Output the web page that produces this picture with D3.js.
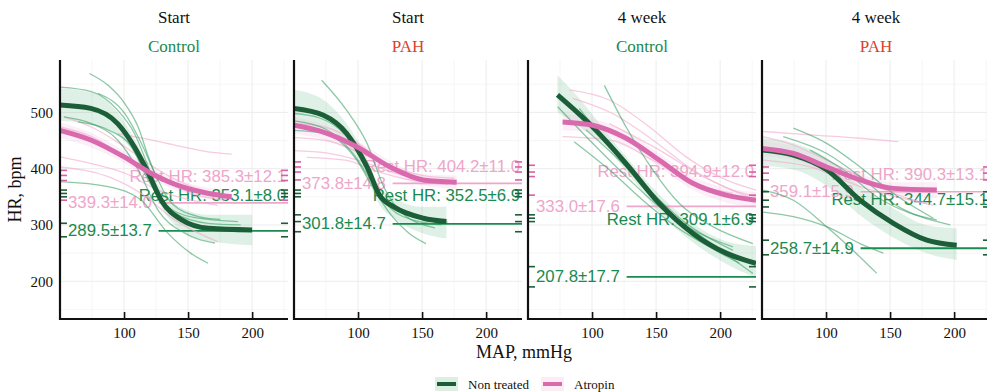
<!DOCTYPE html>
<html>
<head>
<meta charset="utf-8">
<script src="https://cdn.jsdelivr.net/npm/d3@7"></script>
<style>
  body { margin: 0; background: #fff; }
  svg { display: block; }
</style>
</head>
<body>
<div id="chart"></div>
<script>
// Panel headings
var timeLabels = ["Start", "Start", "4 week", "4 week"];
var groupLabels = ["Control", "PAH", "Control", "PAH"];
var mapTicks = [100, 150, 200];
var hrTicks = [200, 300, 400, 500];
var legendLabels = ["Non treated", "Atropin"];

// Summary values (mean and sd) per panel
var restNT = [353.1, 352.5, 309.1, 344.7];
var restNTsd = [8.0, 6.9, 6.9, 15.1];
var restAT = [385.3, 404.2, 394.9, 390.3];
var restATsd = [12.1, 11.0, 12.0, 13.1];
var minNT = [289.5, 301.8, 207.8, 258.7];
var minNTsd = [13.7, 14.7, 17.7, 14.9];
var minAT = [339.3, 373.8, 333.0, 359.1];
var minATsd = [14.0, 14.8, 17.6, 15.9];
var segStartMap = 127;

// Group fits [MAP, HR]
var p1FitNT = [[50,513],[74,507],[95,480],[108,439],[119,392],[129,344],[145,309],[166,294],[200,291]];
var p1FitAT = [[50,468],[74,451],[100,421],[121,392],[145,368],[166,356],[184,350]];
var p2FitNT = [[50,507],[73,495],[91,463],[107,403],[117,352],[128,332],[151,312],[169,306]];
var p2FitAT = [[50,477],[73,465],[99,439],[125,403],[151,380],[177,376]];
var p3FitNT = [[73,531],[100.5,474],[126.6,409],[152.6,338],[178.7,285],[204.7,250],[228,232]];
var p3FitAT = [[77,483],[100.5,477],[126.6,454],[152.6,415],[178.7,374],[204.7,353],[228,344]];
var p4FitNT = [[50,433],[74.5,424],[100.5,398],[126.6,344],[152.6,303],[178.7,273],[202,264]];
var p4FitAT = [[50,436],[74.5,427],[100.5,403],[126.6,380],[152.6,365],[186.5,362]];

// Confidence bands [MAP, upper, lower]
var p1RibNT = [[50,543,485],[75,535,478],[95,500,460],[110,445,420],[120,400,375],[130,360,328],[145,330,290],[165,318,272],[200,318,264]];
var p1RibAT = [[50,482,454],[74,464,438],[100,432,410],[121,402,382],[145,378,358],[166,366,346],[184,362,338]];
var p2RibNT = [[50,540,478],[73,522,472],[91,480,445],[107,418,385],[117,368,335],[128,348,312],[151,332,285],[169,333,276]];
var p2RibAT = [[50,492,462],[73,478,452],[99,450,428],[125,414,392],[151,390,370],[177,388,364]];
var p3RibNT = [[73,566,500],[90,525,475],[110,468,440],[130,412,386],[150,360,328],[170,318,285],[200,275,237],[228,262,206]];
var p3RibAT = [[77,498,468],[100.5,489,465],[126.6,466,442],[152.6,427,403],[178.7,386,362],[204.7,366,340],[228,358,330]];
var p4RibNT = [[50,455,405],[75,445,398],[100,420,370],[126,370,318],[152,330,278],[178,300,250],[202,294,238]];
var p4RibAT = [[50,450,422],[74.5,439,415],[100.5,414,392],[126.6,391,369],[152.6,376,354],[186.5,376,348]];

// Individual animals
var p1IndNT = [
  [[73,569],[87.5,548],[100.5,516],[111,474],[119,421],[126,380]],
  [[50,545],[74.5,537],[95,504],[108,463],[119,403],[126.6,356],[139.6,321],[165.6,303],[191,300]],
  [[50,377],[87.5,368],[113.5,344],[134,286],[152,250],[165.6,232]],
  [[64,483],[87.5,469],[105.7,439],[118.8,380],[134,332],[158,312],[189,306]],
  [[79.7,534],[100.5,498],[113.5,445],[124,392],[137,339],[158,315],[175,310]],
  [[53,492],[74.5,480],[95,451],[111,398],[126.6,326],[147,286],[171,268]]
];
var p1IndAT = [
  [[95,462],[108,457],[139.6,442],[165.6,430],[184,426]],
  [[50,474],[74.5,457],[100.5,421],[126.6,386],[152.6,356],[178.6,344]],
  [[50,421],[74.5,409],[100.5,392],[126.6,362],[152.6,344],[173,335]],
  [[53,492],[74.5,474],[100.5,439],[126.6,398],[152.6,368],[171,356]],
  [[50,403],[87.5,386],[113.5,356],[139.6,309],[173.4,270]]
];
var p2IndNT = [
  [[71.6,557],[91,504],[107,445],[120,368],[135,320],[160,295]],
  [[50,468],[73,463],[99,415],[112,365],[125,320],[140,285],[153,267]],
  [[50,498],[70,490],[90,460],[105,410],[118,350],[135,315],[165,300]],
  [[50,485],[75,470],[95,430],[110,380],[125,335],[150,310],[170,305]]
];
var p2IndAT = [
  [[50,432],[75,428],[100,415],[125,395],[150,380],[175,375]],
  [[50,455],[75,450],[100,430],[125,405],[150,388],[175,383]],
  [[55,480],[80,470],[100,445],[125,400],[150,378],[170,372]],
  [[60,420],[90,415],[115,395],[140,380],[165,375]]
];
var p3IndNT = [
  [[109.6,548],[126.6,474],[147.4,398],[168.2,338],[194.3,297],[225.5,267]],
  [[73.2,510],[100.5,445],[126.6,386],[152.6,332],[178.7,291],[210,261]],
  [[86,448],[113.5,398],[139.6,344],[165.6,297],[191.6,261],[215,232]],
  [[90,507],[116,433],[142,362],[168,309],[197,261],[225.5,214]],
  [[95.3,469],[121.3,415],[147.4,356],[173.4,303],[210,255]]
];
var p3IndAT = [
  [[82.3,540],[113.5,522],[144.8,474],[173.4,421],[204.7,380],[228,362]],
  [[85,525],[116,498],[147.4,451],[178.7,398],[210,362],[228,350]],
  [[77,457],[113.5,451],[147.4,415],[178.7,374],[210,356]],
  [[113.5,480],[152.6,433],[186.5,386],[228,344]]
];
var p4IndNT = [
  [[74.5,472],[100.5,445],[126.6,403],[152.6,356],[183.8,312]],
  [[66.6,457],[100.5,427],[126.6,386],[152.6,338],[197,300]],
  [[51,362],[74.5,344],[100.5,297],[121,255],[139.6,214]],
  [[51,323],[74.5,315],[100.5,297],[126.6,267],[144.8,250]],
  [[87.5,433],[113.5,398],[139.6,350],[165.6,321],[186.5,309]]
];
var p4IndAT = [
  [[51,466],[87.5,460],[126.6,454],[156.5,448]],
  [[51,457],[74.5,442],[100.5,415],[126.6,386],[152.6,356],[178.7,338]],
  [[51,415],[87.5,403],[126.6,368],[165.6,344],[183.8,335]]
];

// Rug values (drawn on both sides)
var p1RugNT = [362, 356, 350, 303, 279];
var p1RugAT = [397, 388, 379, 344];
var p2RugNT = [362, 356, 350, 318, 306, 288];
var p2RugAT = [412, 403, 394, 380];
var p3RugNT = [318, 312, 306, 226, 190];
var p3RugAT = [406, 394, 386, 353];
var p4RugNT = [359, 344, 332, 273, 247];
var p4RugAT = [403, 392, 380];

var panels = [
  {fitNT: p1FitNT, fitAT: p1FitAT, ribNT: p1RibNT, ribAT: p1RibAT, indNT: p1IndNT, indAT: p1IndAT, rugNT: p1RugNT, rugAT: p1RugAT},
  {fitNT: p2FitNT, fitAT: p2FitAT, ribNT: p2RibNT, ribAT: p2RibAT, indNT: p2IndNT, indAT: p2IndAT, rugNT: p2RugNT, rugAT: p2RugAT},
  {fitNT: p3FitNT, fitAT: p3FitAT, ribNT: p3RibNT, ribAT: p3RibAT, indNT: p3IndNT, indAT: p3IndAT, rugNT: p3RugNT, rugAT: p3RugAT},
  {fitNT: p4FitNT, fitAT: p4FitAT, ribNT: p4RibNT, ribAT: p4RibAT, indNT: p4IndNT, indAT: p4IndAT, rugNT: p4RugNT, rugAT: p4RugAT}
];

// Colours
var darkGreen = "#1b5e38", midGreen = "#1a8a50", thinGreen = "#2f9a5c";
var pink = "#d96aad", lightPink = "#eea6ca", thinPink = "#f2a9cd", rugPink = "#d75fa4";
var red = "#d8432e";

var W = 987, H = 392;
var firstLeft = 60, panelW = 228, panelStep = 234;
var plotTop = 60, plotBottom = 319;
var serif = "'Liberation Serif', 'Times New Roman', serif";
var sans = "'Liberation Sans', Arial, sans-serif";
var noteSize = "16.8px";

var svg = d3.select("#chart").append("svg")
  .attr("width", W)
  .attr("height", H);

var x = d3.scaleLinear().domain([50, 228]).range([0, panelW]);
var y = d3.scaleLinear().domain([133, 593]).range([plotBottom, plotTop]);

var line = d3.line()
  .x(function(d) { return x(d[0]); })
  .y(function(d) { return y(d[1]); })
  .curve(d3.curveMonotoneX);

var area = d3.area()
  .x(function(d) { return x(d[0]); })
  .y0(function(d) { return y(d[2]); })
  .y1(function(d) { return y(d[1]); })
  .curve(d3.curveMonotoneX);

panels.forEach(function(p, i) {
  var left = firstLeft + i * panelStep;
  var g = svg.append("g").attr("transform", "translate(" + left + ",0)");

  g.append("clipPath").attr("id", "clip" + i)
    .append("rect").attr("x", 0).attr("y", plotTop).attr("width", panelW).attr("height", plotBottom - plotTop);

  // titles
  g.append("text")
    .attr("x", panelW / 2).attr("y", 23)
    .attr("text-anchor", "middle")
    .style("font-family", serif).style("font-size", "17px")
    .attr("fill", "#111")
    .text(timeLabels[i]);
  g.append("text")
    .attr("x", panelW / 2).attr("y", 52)
    .attr("text-anchor", "middle")
    .style("font-family", serif).style("font-size", "17px")
    .attr("fill", groupLabels[i] == "PAH" ? red : midGreen)
    .text(groupLabels[i]);

  // grid
  var grid = g.append("g");
  grid.selectAll(".vminor").data([75, 125, 175, 225]).enter().append("line")
    .attr("x1", x).attr("x2", x).attr("y1", plotTop).attr("y2", plotBottom)
    .attr("stroke", "#f4f4f4").attr("stroke-width", 0.8);
  grid.selectAll(".hminor").data([150, 250, 350, 450, 550]).enter().append("line")
    .attr("x1", 0).attr("x2", panelW).attr("y1", y).attr("y2", y)
    .attr("stroke", "#f4f4f4").attr("stroke-width", 0.8);
  grid.selectAll(".vmajor").data(mapTicks).enter().append("line")
    .attr("x1", x).attr("x2", x).attr("y1", plotTop).attr("y2", plotBottom)
    .attr("stroke", "#ececec").attr("stroke-width", 1);
  grid.selectAll(".hmajor").data(hrTicks).enter().append("line")
    .attr("x1", 0).attr("x2", panelW).attr("y1", y).attr("y2", y)
    .attr("stroke", "#ececec").attr("stroke-width", 1);

  var plot = g.append("g").attr("clip-path", "url(#clip" + i + ")");

  // bands
  plot.append("path").datum(p.ribNT).attr("d", area)
    .attr("fill", "#3aa864").attr("opacity", 0.16);
  plot.append("path").datum(p.ribAT).attr("d", area)
    .attr("fill", "#f1b6da").attr("opacity", 0.22);

  // labels sit under the curves
  plot.append("text")
    .attr("x", panelW - 2).attr("y", y(restAT[i]))
    .attr("text-anchor", "end").attr("dominant-baseline", "central")
    .style("font-family", sans).style("font-size", noteSize)
    .attr("fill", lightPink)
    .text("Rest HR: " + restAT[i].toFixed(1) + "±" + restATsd[i].toFixed(1));
  plot.append("text")
    .attr("x", panelW - 2).attr("y", y(restNT[i]))
    .attr("text-anchor", "end").attr("dominant-baseline", "central")
    .style("font-family", sans).style("font-size", noteSize)
    .attr("fill", midGreen)
    .text("Rest HR: " + restNT[i].toFixed(1) + "±" + restNTsd[i].toFixed(1));
  plot.append("text")
    .attr("x", 8).attr("y", y(minAT[i]))
    .attr("dominant-baseline", "central")
    .style("font-family", sans).style("font-size", noteSize)
    .attr("fill", lightPink)
    .text(minAT[i].toFixed(1) + "±" + minATsd[i].toFixed(1));
  plot.append("text")
    .attr("x", 8).attr("y", y(minNT[i]))
    .attr("dominant-baseline", "central")
    .style("font-family", sans).style("font-size", noteSize)
    .attr("fill", midGreen)
    .text(minNT[i].toFixed(1) + "±" + minNTsd[i].toFixed(1));

  // minimum HR segments
  plot.append("line")
    .attr("x1", x(segStartMap)).attr("x2", panelW)
    .attr("y1", y(minAT[i])).attr("y2", y(minAT[i]))
    .attr("stroke", lightPink).attr("stroke-width", 1.6);
  plot.append("line")
    .attr("x1", x(segStartMap)).attr("x2", panelW)
    .attr("y1", y(minNT[i])).attr("y2", y(minNT[i]))
    .attr("stroke", midGreen).attr("stroke-width", 1.8);

  // individual curves
  plot.selectAll(".indAT").data(p.indAT).enter().append("path")
    .attr("d", line).attr("fill", "none")
    .attr("stroke", thinPink).attr("stroke-width", 1.3).attr("opacity", 0.6);
  plot.selectAll(".indNT").data(p.indNT).enter().append("path")
    .attr("d", line).attr("fill", "none")
    .attr("stroke", thinGreen).attr("stroke-width", 1.3).attr("opacity", 0.55);

  // group fits
  plot.append("path").datum(p.fitNT).attr("d", line)
    .attr("fill", "none").attr("stroke", darkGreen).attr("stroke-width", 5);
  plot.append("path").datum(p.fitAT).attr("d", line)
    .attr("fill", "none").attr("stroke", pink).attr("stroke-width", 5);

  // rugs on both sides
  [[0, 7], [panelW - 7, panelW]].forEach(function(side) {
    plot.selectAll(null).data(p.rugAT).enter().append("line")
      .attr("x1", side[0]).attr("x2", side[1]).attr("y1", y).attr("y2", y)
      .attr("stroke", rugPink).attr("stroke-width", 1.6);
    plot.selectAll(null).data(p.rugNT).enter().append("line")
      .attr("x1", side[0]).attr("x2", side[1]).attr("y1", y).attr("y2", y)
      .attr("stroke", darkGreen).attr("stroke-width", 1.6);
  });

  // x axis
  var xAxis = g.append("g")
    .attr("transform", "translate(0," + plotBottom + ")")
    .call(d3.axisBottom(x).tickValues(mapTicks).tickSizeInner(-7).tickSizeOuter(0).tickPadding(8));
  xAxis.select(".domain").remove();
  xAxis.selectAll(".tick line").attr("stroke", "#111").attr("stroke-width", 1.6);
  xAxis.selectAll("text").style("font-family", serif).style("font-size", "15px").attr("fill", "#111");
  g.append("line")
    .attr("x1", 0).attr("x2", panelW).attr("y1", plotBottom).attr("y2", plotBottom)
    .attr("stroke", "#111").attr("stroke-width", 2);
  g.append("line")
    .attr("x1", 0).attr("x2", 0).attr("y1", plotTop).attr("y2", plotBottom + 1)
    .attr("stroke", "#111").attr("stroke-width", 2.2);

  // y axis labels only on first panel
  if (i == 0) {
    var yAxis = g.append("g")
      .call(d3.axisLeft(y).tickValues(hrTicks).tickSize(0).tickPadding(7));
    yAxis.select(".domain").remove();
    yAxis.selectAll("text").style("font-family", serif).style("font-size", "15px").attr("fill", "#111");
  }
});

// axis titles
svg.append("text")
  .attr("transform", "translate(21," + ((plotTop + plotBottom) / 2) + ") rotate(-90)")
  .attr("text-anchor", "middle")
  .style("font-family", serif).style("font-size", "18px")
  .attr("fill", "#111")
  .text("HR, bpm");
svg.append("text")
  .attr("x", 524).attr("y", 358)
  .attr("text-anchor", "middle")
  .style("font-family", serif).style("font-size", "18px")
  .attr("fill", "#111")
  .text("MAP, mmHg");

// legend
var legendX = [435, 541];
var legendKeyFill = ["#dcefe0", "#fcedf5"];
var legendLine = [darkGreen, pink];
legendLabels.forEach(function(lab, k) {
  var lg = svg.append("g").attr("transform", "translate(" + legendX[k] + ",377)");
  lg.append("rect").attr("width", 23).attr("height", 14).attr("fill", legendKeyFill[k]);
  lg.append("line").attr("x1", 2).attr("x2", 21).attr("y1", 7).attr("y2", 7)
    .attr("stroke", legendLine[k]).attr("stroke-width", 4);
  lg.append("text").attr("x", 33).attr("y", 7)
    .attr("dominant-baseline", "central")
    .style("font-family", serif).style("font-size", "13px")
    .attr("fill", "#111")
    .text(lab);
});
</script>
</body>
</html>
